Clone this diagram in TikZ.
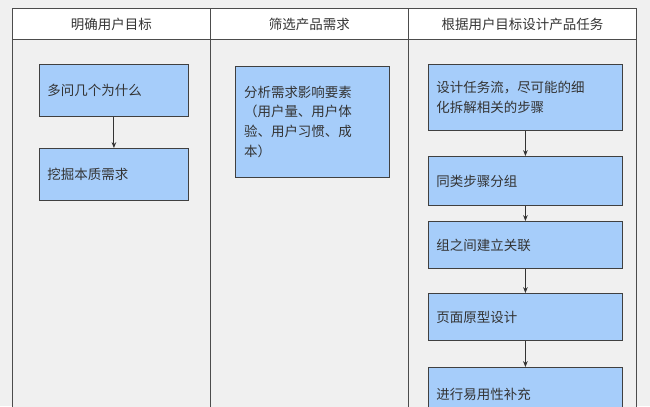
\documentclass[tikz,border=0pt]{standalone}
\usepackage{fontspec}
\setmainfont{Noto Sans CJK SC}
\usetikzlibrary{arrows.meta}
\definecolor{boxblue}{HTML}{A6CDFA}
\definecolor{lanegray}{HTML}{F0F0F0}
\begin{document}
\begin{tikzpicture}[
    x=0.03cm, y=-0.03cm,
    lane/.style={draw=black!70, fill=lanegray, line width=0.7pt},
    head/.style={draw=black!70, fill=white, line width=0.7pt, anchor=north west,
                 minimum width=5.94cm, minimum height=0.93cm, inner sep=0pt,
                 font=\fontsize{11.5}{14}\selectfont, text=black!80},
    box/.style={draw=black!75, fill=boxblue, line width=0.7pt, anchor=north west,
                align=left, inner sep=0.24cm, font=\fontsize{11.5}{17}\selectfont,
                text=black!80},
    arrow/.style={-{Stealth[length=5pt,width=4pt]}, draw=black!80, line width=0.8pt},
]
  \useasboundingbox (0,0) rectangle (650,406);
  \fill[lanegray] (0,0) rectangle (650,406);
  \begin{scope}
  \clip (0,0) rectangle (650,406);
  % Lanes
  \draw[lane] (12,39) rectangle (210,420);
  \draw[lane] (210,39) rectangle (408,420);
  \draw[lane] (408,39) rectangle (636,420);
  \node[head] (h1) at (12,8) {明确用户目标};
  \node[head] (h2) at (210,8) {筛选产品需求};
  \node[head, minimum width=6.84cm] (h3) at (408,8) {根据用户目标设计产品任务};

  % Lane 1
  \node[box, minimum width=4.47cm, minimum height=1.56cm, text width=3.99cm] (why) at (39,64) {多问几个为什么};
  \node[box, minimum width=4.47cm, minimum height=1.56cm, text width=3.99cm] (dig) at (39,148) {挖掘本质需求};

  % Lane 2
  \node[box, minimum width=4.62cm, minimum height=3.33cm, text width=4.1cm] (factor) at (235,66)
    {分析需求影响要素\\（用户量、用户体\\验、用户习惯、成\\本）};

  % Lane 3
  \node[box, minimum width=5.82cm, minimum height=1.98cm, text width=5.34cm] (flow) at (428,64)
    {设计任务流，尽可能的细\\化拆解相关的步骤};
  \node[box, minimum width=5.82cm, minimum height=1.47cm, text width=5.34cm] (group) at (428,156) {同类步骤分组};
  \node[box, minimum width=5.82cm, minimum height=1.41cm, text width=5.34cm] (link) at (428,221) {组之间建立关联};
  \node[box, minimum width=5.82cm, minimum height=1.41cm, text width=5.34cm] (page) at (428,293) {页面原型设计};
  \node[box, minimum width=5.82cm, minimum height=1.6cm, text width=5.34cm] (usable) at (428,367) {进行易用性补充};

  % Arrows
  \draw[arrow] (why) -- (dig);
  \draw[arrow] (flow) -- (group);
  \draw[arrow] (group) -- (link);
  \draw[arrow] (link) -- (page);
  \draw[arrow] (page) -- (usable);
  \end{scope}
\end{tikzpicture}
\end{document}
